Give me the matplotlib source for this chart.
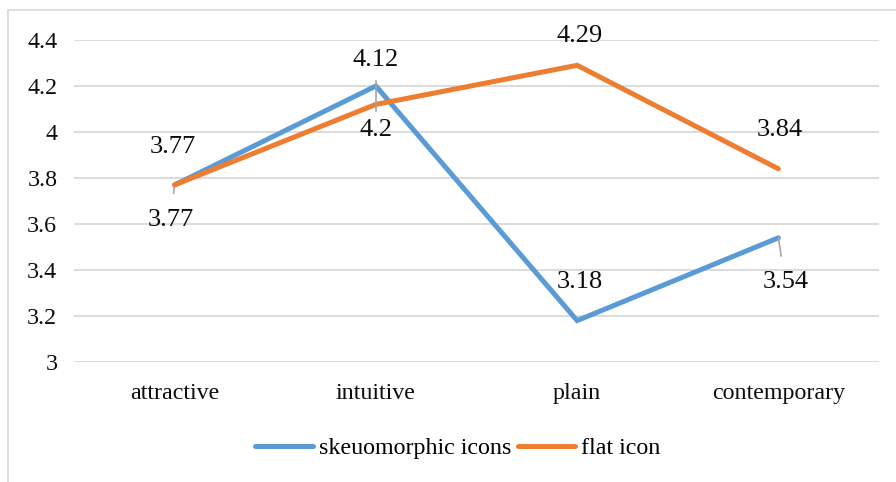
import matplotlib.pyplot as plt
from matplotlib.patches import Rectangle

# Mean ratings per attribute for the two icon styles
categories = ['attractive', 'intuitive', 'plain', 'contemporary']
skeuomorphic = [3.77, 4.2, 3.18, 3.54]
flat = [3.77, 4.12, 4.29, 3.84]
y_ticks = [3, 3.2, 3.4, 3.6, 3.8, 4, 4.2, 4.4]
y_tick_labels = ['3', '3.2', '3.4', '3.6', '3.8', '4', '4.2', '4.4']

blue = '#5B9BD5'
orange = '#ED7D31'

plt.rcParams['font.family'] = 'Liberation Serif'

fig = plt.figure(figsize=(8.96, 4.82), dpi=100)
ax = fig.add_axes([74 / 896, 1 - 362 / 482, 805 / 896, 322 / 482])

# chart area outline
fig.patches.append(Rectangle((8 / 896, -0.1), 1.2, 1 - 10 / 482 + 0.1,
                             transform=fig.transFigure, fill=False,
                             edgecolor='#D9D9D9', linewidth=1.2))

x = list(range(len(categories)))
ax.plot(x, skeuomorphic, color=blue, linewidth=3.6, label='skeuomorphic icons',
        solid_capstyle='round', solid_joinstyle='miter', zorder=3)
ax.plot(x, flat, color=orange, linewidth=3.6, label='flat icon',
        solid_capstyle='round', solid_joinstyle='miter', zorder=4)

ax.set_xlim(-0.5, 3.5)
ax.set_ylim(3, 4.4)
ax.set_yticks(y_ticks)
ax.set_yticklabels(y_tick_labels)
ax.set_xticks(x)
ax.set_xticklabels(categories)
ax.tick_params(axis='both', length=0, labelsize=17.3, labelcolor='#0D0D0D')
ax.tick_params(axis='y', pad=12)
ax.tick_params(axis='x', pad=15)
ax.grid(axis='y', color='#D9D9D9', linewidth=1.3)
ax.set_axisbelow(True)
for s in ax.spines.values():
    s.set_visible(False)

# data labels (dragged positions, offsets in points) with leader lines
lbl = dict(fontsize=19, ha='center', va='center', color='#0D0D0D',
           textcoords='offset points')
lead = dict(arrowstyle='-', color='#A6A6A6', linewidth=1.2, shrinkA=9, shrinkB=0)

ax.annotate(f'{flat[0]:g}', (0, flat[0]), xytext=(-1, 27), **lbl)
ax.annotate(f'{skeuomorphic[0]:g}', (0, skeuomorphic[0]), xytext=(-3, -25),
            arrowprops=lead, **lbl)
ax.annotate(f'{flat[1]:g}', (1, skeuomorphic[1]), xytext=(0, 19), **lbl)
ax.annotate(f'{skeuomorphic[1]:g}', (1, skeuomorphic[1]), xytext=(0, -32), **lbl)
ax.plot([1, 1], [skeuomorphic[1] + 0.02, flat[1] - 0.03], color='#A6A6A6',
        linewidth=1.2, zorder=5)
ax.annotate(f'{flat[2]:g}', (2, flat[2]), xytext=(2, 21), **lbl)
ax.annotate(f'{skeuomorphic[2]:g}', (2, skeuomorphic[2]), xytext=(2, 28), **lbl)
ax.annotate(f'{flat[3]:g}', (3, flat[3]), xytext=(1, 28), **lbl)
ax.annotate(f'{skeuomorphic[3]:g}', (3, skeuomorphic[3]), xytext=(5, -32),
            arrowprops=lead, **lbl)

fig.legend(loc='center', bbox_to_anchor=(458 / 896, 1 - 448 / 482), ncol=2,
           frameon=False, fontsize=17.3, handlelength=2.4, handletextpad=0.25,
           columnspacing=0.25)

fig.savefig('out.png', dpi=100, facecolor='white')
